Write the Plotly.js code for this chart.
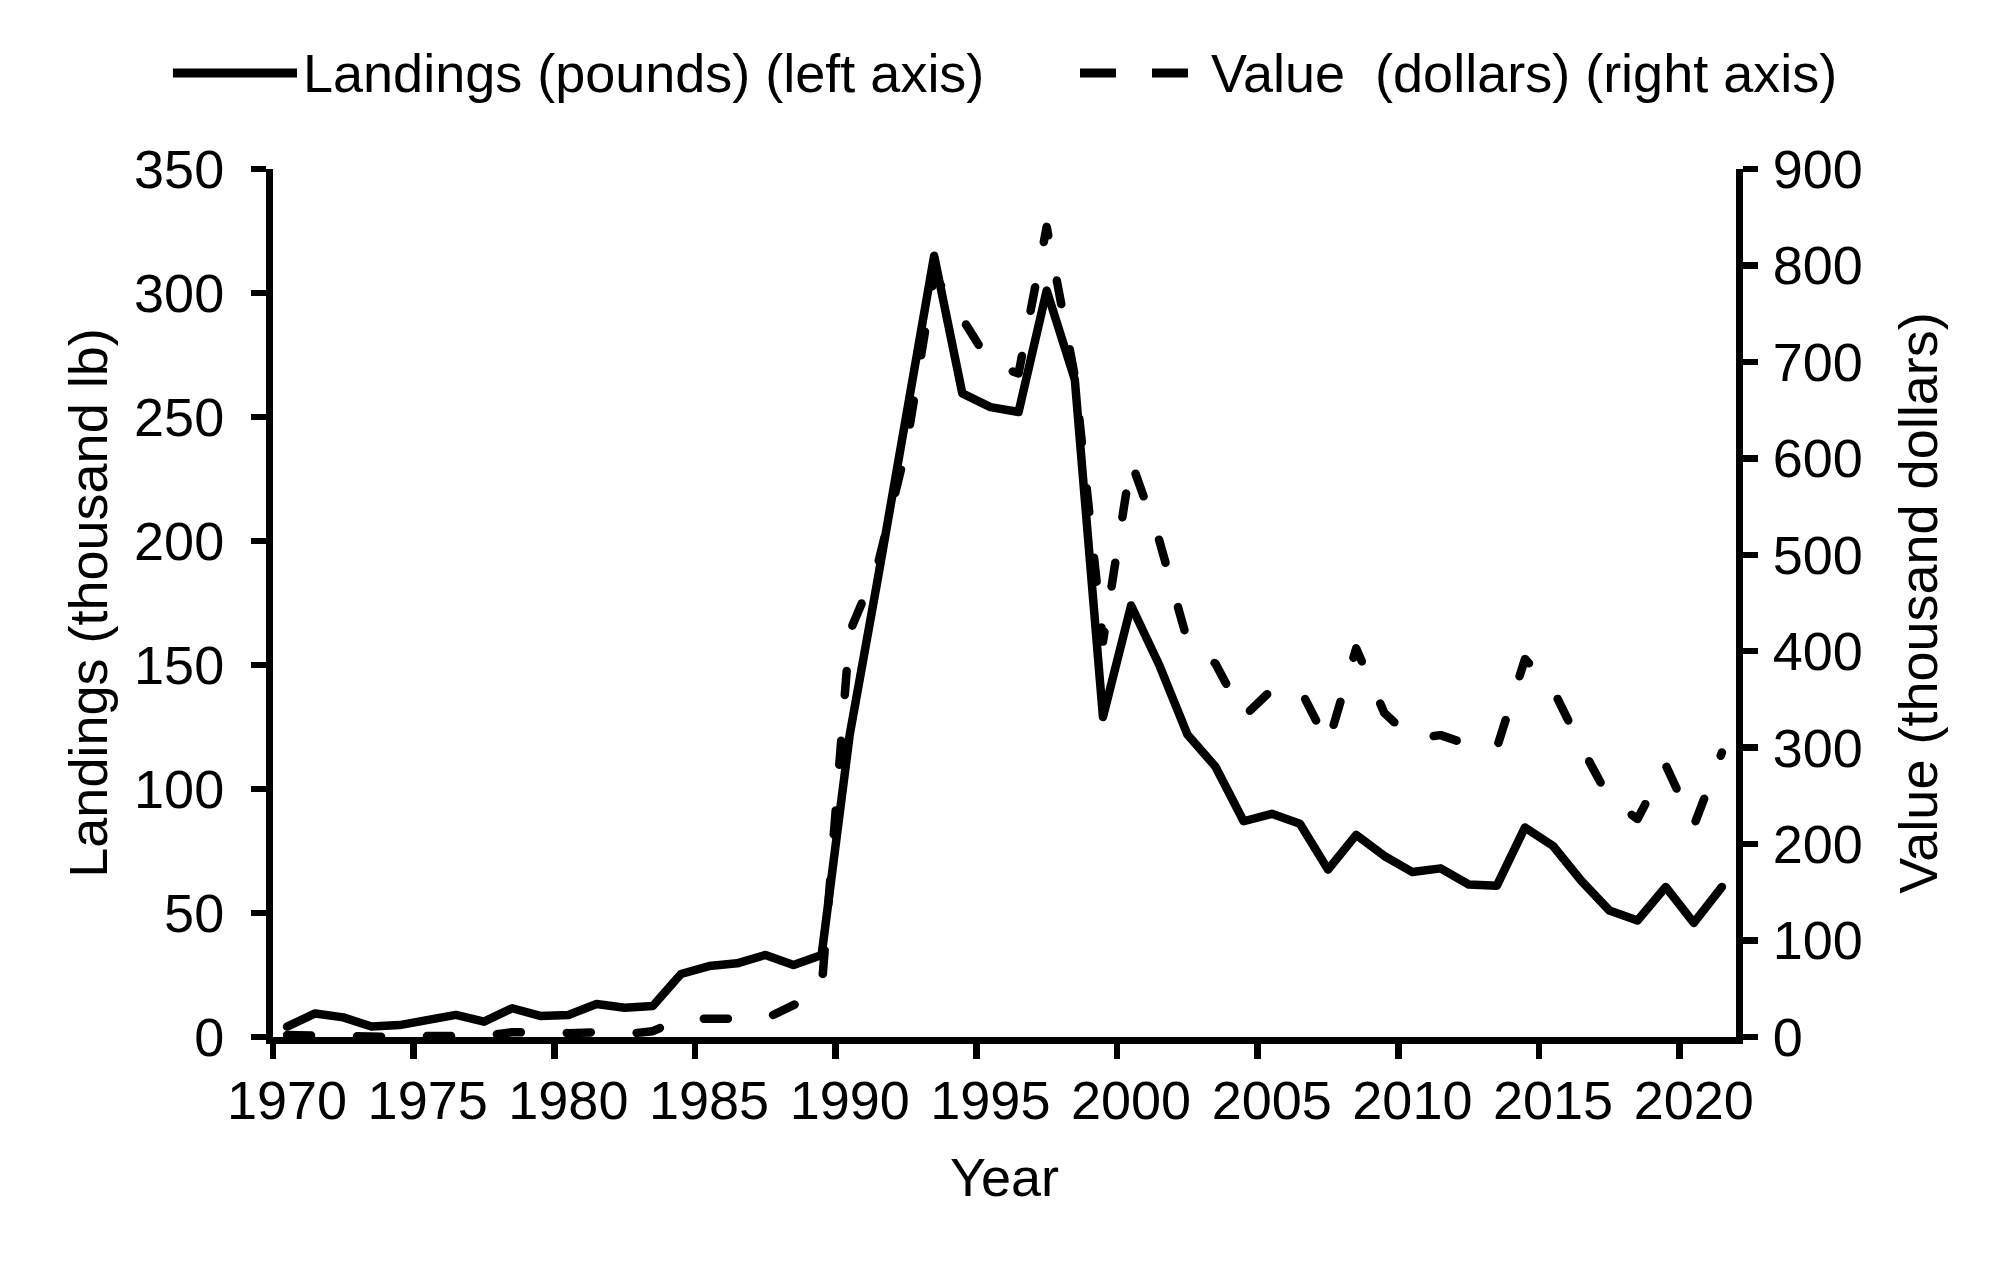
<!DOCTYPE html>
<html><head><meta charset="utf-8">
<script src="https://cdn.plot.ly/plotly-3.0.1.min.js"></script>
<style>
html,body{margin:0;padding:0;background:#fff;}
#chart{width:2009px;height:1266px;}
.scatterlayer .js-line{stroke-linecap:round;stroke-linejoin:round;}
</style></head><body><div id="chart"></div>
<script>
const years = [1970,1971,1972,1973,1974,1975,1976,1977,1978,1979,
  1980,1981,1982,1983,1984,1985,1986,1987,1988,1989,
  1990,1991,1992,1993,1994,1995,1996,1997,1998,1999,
  2000,2001,2002,2003,2004,2005,2006,2007,2008,2009,
  2010,2011,2012,2013,2014,2015,2016,2017,2018,2019,2020,2021];
// Landings, thousand lb (left axis)
const landings = [4.2,9.5,7.9,4.2,4.8,7.1,8.9,6.2,11.6,8.5,
  8.9,13.3,11.8,12.5,25.4,28.6,29.7,33.1,29.0,33.1,
  122,185,250,315,259.5,254,252,301,265,129,
  174,150,122,109,87,90,86,67.5,81.5,73,
  66.5,68,61.5,61,84.5,77,63,51,47,60.5,46,60.5];
// Value, thousand dollars (right axis)
const value = [2,1,0,0,0,1,1,1,5,4,
  4,5,3,6,19,19,18,19,33,50,
  420,490,610,790,745,698,688,840,685,410,
  597,515,411,387,332,360,361,304,403,336,
  309,313,303,300,392,360,301,247,226,282,219,295];
const xTickLabels = ['1970','1975','1980','1985','1990','1995','2000','2005','2010','2015','2020'];
const leftTicks = [0,50,100,150,200,250,300,350];
const rightTicks = [0,100,200,300,400,500,600,700,800,900];
const seriesNames = ['Landings (pounds) (left axis)','Value \u00a0(dollars) (right axis)'];
const axisTitles = {x:'Year', y:'Landings (thousand lb)', y2:'Value (thousand dollars)'};

const FONT = '"Liberation Sans", Arial, Helvetica, sans-serif';
const traces = [
  {x: years, y: landings, name: seriesNames[0], type:'scatter', mode:'lines',
   line:{color:'#000', width:8.5}, yaxis:'y'},
  {x: years, y: value, name: seriesNames[1], type:'scatter', mode:'lines',
   line:{color:'#000', width:8.5, dash:'24px,46px'}, yaxis:'y2'}
];

const axisCommon = {
  showgrid:false, zeroline:false, showline:true, linecolor:'#000', linewidth:7,
  ticks:'outside', ticklen:15, tickwidth:6.5, tickcolor:'#000',
  tickfont:{family:FONT, size:54, color:'#000'}
};

const layout = {
  width:2009, height:1266,
  margin:{l:273, r:273, t:169, b:229, pad:0},
  paper_bgcolor:'#fff', plot_bgcolor:'#fff',
  font:{family:FONT, size:54, color:'#000'},
  showlegend:false,
  xaxis: Object.assign({}, axisCommon, {
    range:[1969.5, 2021.5],
    tickmode:'array',
    tickvals: xTickLabels.map(v => Number(v) - 0.5),
    ticktext: xTickLabels,
    ticklabelshift: 14,
    ticklabelstandoff: -5,
    title:{text:axisTitles.x, font:{family:FONT, size:54}, standoff:32}
  }),
  yaxis: Object.assign({}, axisCommon, {
    range:[0,350], tickmode:'array', tickvals:leftTicks,
    ticklabelstandoff: 16,
    title:{text:axisTitles.y, font:{family:FONT, size:54}, standoff:12}
  }),
  yaxis2: Object.assign({}, axisCommon, {
    range:[0,900], tickmode:'array', tickvals:rightTicks,
    overlaying:'y', side:'right', anchor:'x',
    ticklabelstandoff: 4,
    title:{text:axisTitles.y2, font:{family:FONT, size:54}, standoff:40}
  }),
  shapes:[
    {type:'line', xref:'paper', yref:'paper', x0:-0.0684, x1:0.0164, y0:1.1106, y1:1.1106,
     line:{color:'#000', width:9}},
    {type:'line', xref:'paper', yref:'paper', x0:0.5516, x1:0.6282, y0:1.1106, y1:1.1106,
     line:{color:'#000', width:9, dash:'36px,36px'}}
  ],
  annotations:[
    {xref:'paper', yref:'paper', x:0.0195, y:1.1106, xanchor:'left', yanchor:'middle',
     text:seriesNames[0], showarrow:false, font:{family:FONT, size:54, color:'#000'}, borderpad:0},
    {xref:'paper', yref:'paper', x:0.6405, y:1.1106, xanchor:'left', yanchor:'middle',
     text:seriesNames[1], showarrow:false, font:{family:FONT, size:54, color:'#000'}, borderpad:0}
  ]
};

Plotly.newPlot('chart', traces, layout, {displayModeBar:false, staticPlot:true});
</script>
</body></html>
